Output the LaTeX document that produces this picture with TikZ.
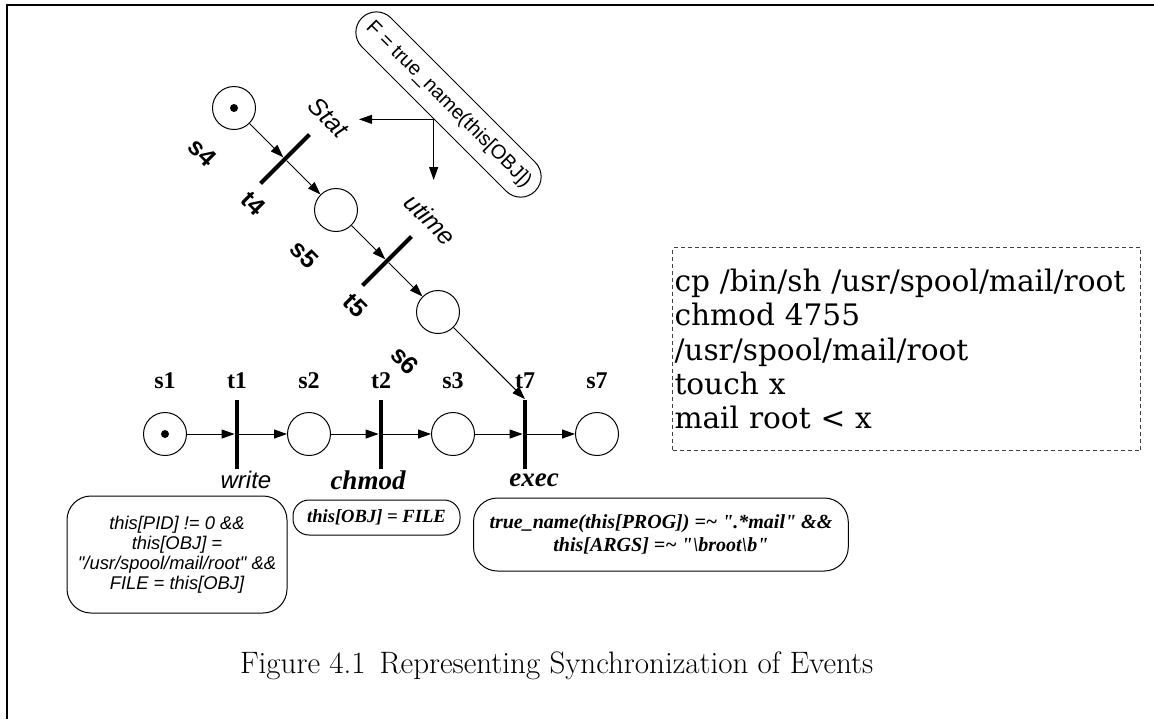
\documentclass[tikz,border=0pt]{standalone}
\usepackage{fontspec}
\newfontfamily\helv{Liberation Sans}
\newfontfamily\tms{Liberation Serif}
\newfontfamily\dvs{DejaVu Serif}
\usetikzlibrary{positioning,arrows.meta}

\begin{document}
\begin{tikzpicture}[
  x=0.5pt, y=-0.5pt, on grid,
  place/.style={draw, circle, line width=0.5pt, minimum size=21.5pt, inner sep=0pt},
  marked/.style={place, path picture={\fill (path picture bounding box.center) circle (2pt);}},
  trans/.style={fill=black, minimum width=2pt, minimum height=34.5pt, inner sep=0pt},
  arr/.style={-{Triangle[length=6.5pt, width=4.5pt]}, line width=0.5pt},
  lbl/.style={font=\tms\bfseries\fontsize{12}{14}\selectfont},
  dlbl/.style={font=\helv\bfseries\fontsize{12.5}{14}\selectfont, rotate=-45},
  call/.style={font=\helv\itshape\fontsize{12.5}{14}\selectfont},
  scall/.style={font=\tms\bfseries\itshape\fontsize{13.5}{16}\selectfont},
  guard/.style={draw, line width=0.5pt, align=center, inner sep=0pt},
  sansCond/.style={guard, font=\helv\itshape\fontsize{9.2}{10}\selectfont},
  serifCond/.style={guard, font=\tms\bfseries\itshape\fontsize{9.3}{11.5}\selectfont}
]
\useasboundingbox (0,0) rectangle (1154,719);
\draw[line width=1pt] (1154,5) -- (7,5) -- (7,719);

\node[marked] (s4) at (234,108) {};
\node[trans, rotate=-45, below right=25.5pt and 25.5pt of s4] (t4) {};
\node[place, below right=25.5pt and 25.5pt of t4] (s5) {};
\node[trans, rotate=-45, below right=25.5pt and 25.5pt of s5] (t5) {};
\node[place, below right=25.5pt and 25.5pt of t5] (s6) {};

\node[marked] (s1) at (165,434) {};
\node[trans, right=36pt of s1] (t1) {};
\node[place, right=36pt of t1] (s2) {};
\node[trans, right=36pt of s2] (t2) {};
\node[place, right=36pt of t2] (s3) {};
\node[trans, right=36pt of s3] (t7) {};
\node[place, right=36pt of t7] (s7) {};

\node[lbl, above=26.5pt of s1] {s1};
\node[lbl, above=26.5pt of t1] {t1};
\node[lbl, above=26.5pt of s2] {s2};
\node[lbl, above=26.5pt of t2] {t2};
\node[lbl, above=26.5pt of s3] {s3};
\node[lbl, above=26.5pt of t7] {t7};
\node[lbl, above=26.5pt of s7] {s7};

\node[dlbl, below left=22pt and 16pt of s4] {s4};
\node[dlbl, below left=22pt and 16pt of t4] {t4};
\node[dlbl, below left=22pt and 16pt of s5] {s5};
\node[dlbl, below left=22pt and 16pt of t5] {t5};
\node[dlbl, below left=24pt and 16.5pt of s6] {s6};

\node[call, rotate=-45, above right=20.75pt and 21.75pt of t4] (stat) {Stat};
\node[call, rotate=-45, above right=20.75pt and 21.75pt of t5] (utime) {utime};

\node[call, font=\helv\itshape\fontsize{12}{14}\selectfont, below right=23pt and 4.5pt of t1] (write) {write};
\node[scall, below left=23pt and 6.5pt of t2] (chmod) {chmod};
\node[scall, below right=23pt and 4.5pt of t7] (exec) {exec};

\draw[arr] (s4) -- (t4);
\draw[arr] (t4) -- (s5);
\draw[arr] (s5) -- (t5);
\draw[arr] (t5) -- (s6);
\draw[arr] (s6) -- (t7.north);
\draw[arr] (s1) -- (t1);
\draw[arr] (t1) -- (s2);
\draw[arr] (s2) -- (t2);
\draw[arr] (t2) -- (s3);
\draw[arr] (s3) -- (t7);
\draw[arr] (t7) -- (s7);

\node[guard, rotate=-45, rounded corners=10.25pt, minimum width=122.5pt, minimum height=20.5pt,
  font=\helv\fontsize{10}{12}\selectfont] (assignF) at (448.5,104.5) {F = true\_name(this[OBJ])};
\coordinate (statIn) at (359,119);
\coordinate (utimeIn) at (434,180);
\draw[arr] (assignF.south) -- (statIn |- assignF.south);
\draw[arr] (assignF.south) -- (assignF.south |- utimeIn);

\node[sansCond, rounded corners=12pt, minimum width=110pt, minimum height=58.5pt] (guardWrite) at (177,554.5)
  {this[PID] != 0 \&\&\\ this[OBJ] =\\ "/usr/spool/mail/root" \&\&\\ FILE = this[OBJ]};
\node[serifCond, rounded corners=8pt, minimum width=83.5pt, minimum height=17.5pt] (guardChmod) at (376.5,517.5)
  {this[OBJ] = FILE};
\node[serifCond, font=\tms\bfseries\itshape\fontsize{10}{11.5}\selectfont, rounded corners=12pt, anchor=west,
  inner xsep=8pt, minimum height=36.5pt] (guardExec) at (473,534.5)
  {true\_name(this[PROG]) =\textasciitilde{} ".*mail" \&\&\\ this[ARGS] =\textasciitilde{} "\textbackslash broot\textbackslash b"};

\node[draw=black!75, dash pattern=on 2pt off 1.5pt, line width=0.5pt, anchor=north west, text width=232pt,
  align=left, inner xsep=1pt, inner ysep=0pt, minimum height=101.5pt,
  font=\dvs\fontsize{14.8}{17.2}\selectfont] (script) at (672,247)
  {cp /bin/sh /usr/spool/mail/root\\chmod 4755\\/usr/spool/mail/root\\touch x\\mail root < x};

\node[anchor=base west, font=\fontsize{15.5}{18}\selectfont] (caption) at (233,673)
  {Figure 4.1\hspace{0.45em}Representing Synchronization of Events};

\end{tikzpicture}
\end{document}
